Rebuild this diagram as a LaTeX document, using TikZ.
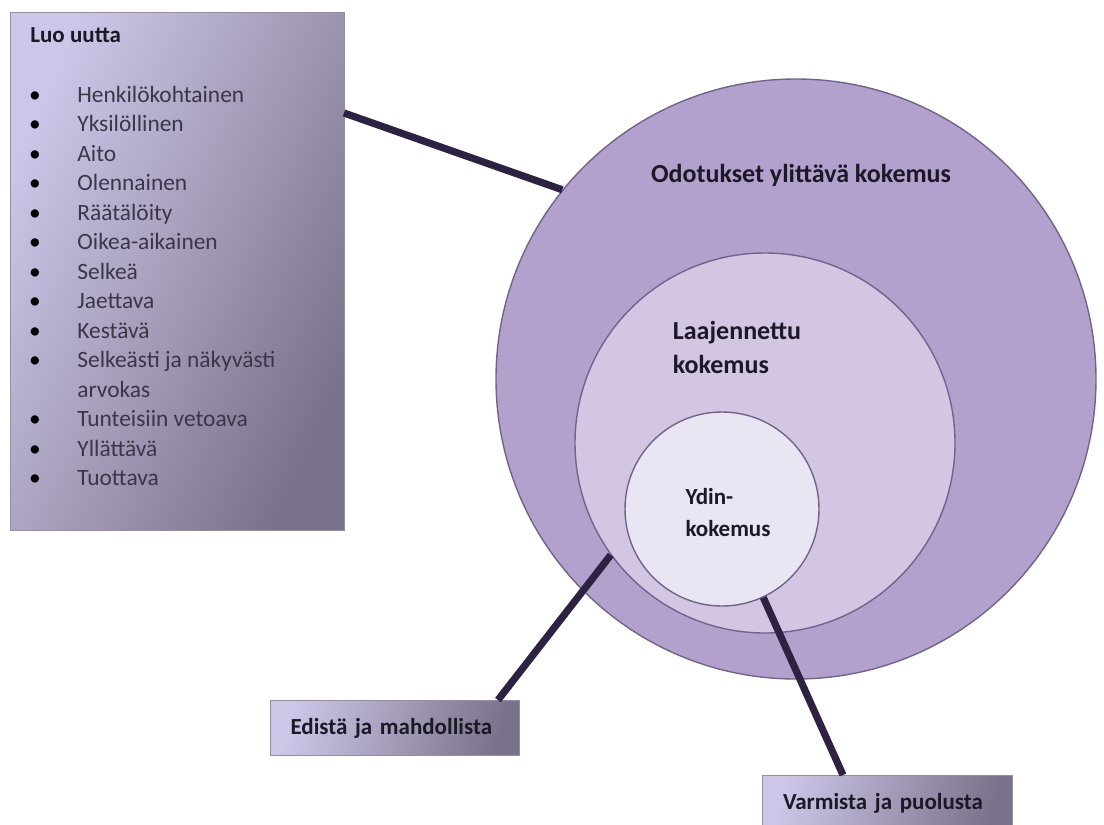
\documentclass[tikz,border=0pt]{standalone}
\usepackage{fontspec}
\setmainfont{Carlito}
\usepackage{tikz}
\usetikzlibrary{calc}

\definecolor{ringouter}{RGB}{178,161,205}
\definecolor{ringmid}{RGB}{210,198,226}
\definecolor{ringinner}{RGB}{233,229,242}
\definecolor{ringline}{RGB}{112,100,140}
\definecolor{boxlight}{RGB}{206,198,232}
\definecolor{boxdark}{RGB}{122,114,138}
\definecolor{linkcol}{RGB}{46,34,66}
\definecolor{txt}{RGB}{28,24,38}
\definecolor{itemtxt}{RGB}{60,54,72}

\tikzset{
  ring/.style={circle, draw=ringline, line width=0.7pt, inner sep=0pt},
  panel/.style={draw=boxdark!80, line width=0.5pt, left color=boxlight, right color=boxdark, inner sep=0pt},
  link/.style={linkcol, line width=3.6pt},
  lbl/.style={text=txt, font=\fontsize{11.5}{14}\selectfont\bfseries},
  item/.style={text=itemtxt, font=\fontsize{11.7}{13}\selectfont, inner sep=0pt}
}

\begin{document}
\begin{tikzpicture}[x=0.5pt, y=-0.5pt]
	\path[use as bounding box, fill=white] (0,0) rectangle (1104,825);
	% left list
	\node[panel, minimum width=167pt, minimum height=259pt, anchor=north west, shading angle=65] (lbox) at (10,12) {};
	\node[lbl, anchor=base west, inner sep=0pt] (luo) at (30,42) {Luo uutta};
	\foreach \b/\t [count=\i from 0] in {1/Henkilökohtainen, 1/Yksilöllinen, 1/Aito, 1/Olennainen, 1/Räätälöity, 1/Oikea-aikainen, 1/Selkeä, 1/Jaettava, 1/Kestävä, 1/Selkeästi ja näkyvästi, 0/arvokas, 1/Tunteisiin vetoava, 1/Yllättävä, 1/Tuottava}{
		\node[item, anchor=base west] (item\i) at (77,102+29.5*\i) {\t};
		\ifnum\b=1 \node[item, text=black, anchor=base] (dot\i) at (35,102+29.5*\i) {\textbullet}; \fi
	}
	% circles
	\node[ring, fill=ringouter, minimum size=300pt] (outer) at (796,379) {};
	\node[ring, fill=ringmid, minimum size=190pt] (mid) at (765,443) {};
	\node[ring, fill=ringinner, minimum size=97pt] (inner) at (722,509) {};
	\node[lbl, font=\fontsize{13}{16}\selectfont\bfseries, anchor=base] (odotukset) at (801,182) {Odotukset ylittävä kokemus};
	\node[lbl, font=\fontsize{13}{17}\selectfont\bfseries, align=left] (laaj) at (737,347) {Laajennettu\\kokemus};
	\node[lbl, font=\fontsize{11.5}{16}\selectfont\bfseries, align=left] (ydin) at (728,513) {Ydin-\\kokemus};
	% small boxes
	\node[panel, lbl, minimum width=124.5pt, minimum height=27.5pt, text width=104.5pt, inner xsep=10pt, align=left, anchor=north west, shading angle=75] (ebox) at (270,700) {Edistä ja mahdollista};
	\node[panel, lbl, minimum width=125pt, minimum height=27.5pt, text width=104.5pt, inner xsep=10.25pt, align=left, anchor=north west, shading angle=75] (vbox) at (762,775) {Varmista ja puolusta};
	% links
	\coordinate (lpin) at (344,113);
	\draw[link] (lpin) -- (outer.141);
	\draw[link] ($(ebox.north east)+(-22,0)$) -- (mid.216);
	\draw[link] ($(vbox.north west)+(81,0)$) -- (inner.-65);
\end{tikzpicture}
\end{document}
